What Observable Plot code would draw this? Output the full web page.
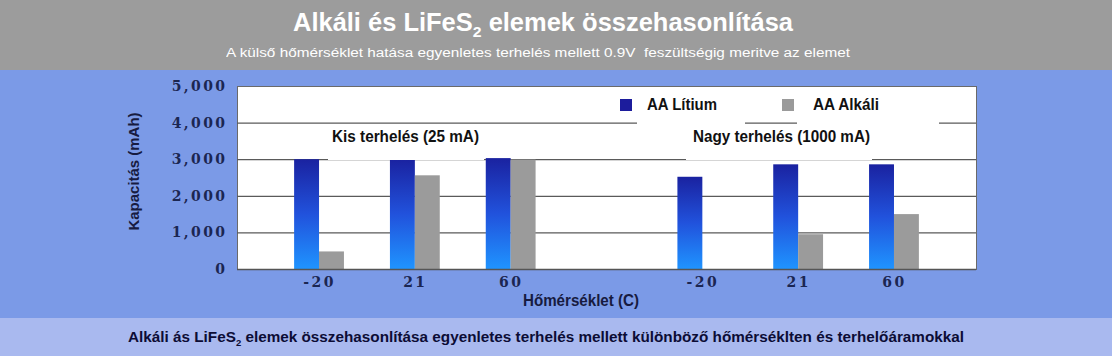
<!DOCTYPE html>
<html><head><meta charset="utf-8">
<script src="https://cdn.jsdelivr.net/npm/d3@7"></script>
<script src="https://cdn.jsdelivr.net/npm/@observablehq/plot@0.6"></script>
<style>
body{margin:0;width:1112px;height:356px;overflow:hidden;position:relative;font-family:"Liberation Sans",Arial,sans-serif;}
#top{position:absolute;left:0;top:0;width:1112px;height:70px;background:#9c9c9c;}
#mid{position:absolute;left:0;top:70px;width:1112px;height:248px;background:#7b9ae7;}
#bot{position:absolute;left:0;top:318px;width:1112px;height:38px;background:#a9b9ef;}
.t{position:absolute;white-space:nowrap;line-height:1;transform-origin:left top;}
.t sub{font-size:0.62em;vertical-align:-0.38em;line-height:0;}
.box{position:absolute;background:#fff;}
.sq{position:absolute;width:12px;height:12px;}
#mid svg g[aria-label="y-axis tick label"] text,
#mid svg g[aria-label="x-axis tick label"] text{font-family:"DejaVu Serif",serif;font-weight:bold;font-size:14px;letter-spacing:2.4px;fill:#1b2652;}
</style></head>
<body>
<div id="top"></div><div id="mid"></div><div id="bot"></div>
<script>
// ---- data ----
const groups = ["K-20","K21","K60","gap","N-20","N21","N60"];
const tickLabels = ["-20","21","60","","-20","21","60"];
const lithium = [3000, 3000, 3030, null, 2520, 2860, 2860];
const alkaline = [480, 2560, 2990, null, 0, 950, 1500];
const yTicks = [0, 1000, 2000, 3000, 4000, 5000];
const seriesNames = ["AA Lítium", "AA Alkáli"];
const loadLabels = ["Kis terhelés (25 mA)", "Nagy terhelés (1000 mA)"];

const rows = groups.map((g, i) => ({group: g, lit: lithium[i], alk: alkaline[i]})).filter(d => d.lit != null);
const labelOf = Object.fromEntries(groups.map((g, i) => [g, tickLabels[i]]));

const chart = Plot.plot({
  width: 1112, height: 248,
  marginLeft: 237, marginRight: 136, marginTop: 16, marginBottom: 49,
  style: {background: "transparent", overflow: "visible"},
  x: {type: "band", domain: groups, paddingInner: 0.48, paddingOuter: 0.596, round: false, axis: null},
  y: {domain: [0, 5000], axis: null},
  marks: [
    Plot.frame({fill: "white", stroke: "#6a6a6a"}),
    Plot.ruleY(yTicks.filter(d => d > 0 && d < 5000), {stroke: "#5a5a5a", strokeWidth: 1.3}),
    Plot.barY(rows, {x: "group", y: "lit", fill: "url(#litGrad)", insetRight: 24.9}),
    Plot.barY(rows, {x: "group", y: "alk", fill: "#9b9b9b", insetLeft: 24.9}),
    Plot.ruleY([0], {stroke: "#555", strokeWidth: 1.5}),
    Plot.axisY(yTicks, {tickSize: 0, tickPadding: 10, tickFormat: d3.format(","), label: null}),
    Plot.axisX({tickSize: 0, tickPadding: 8, tickFormat: d => labelOf[d], label: null})
  ]
});
const ns = "http://www.w3.org/2000/svg";
const defs = document.createElementNS(ns, "defs");
defs.innerHTML = '<linearGradient id="litGrad" x1="0" y1="0" x2="0" y2="1"><stop offset="0" stop-color="#1a22a0"/><stop offset="0.5" stop-color="#2152dc"/><stop offset="1" stop-color="#1f94ff"/></linearGradient>';
chart.prepend(defs);
document.getElementById("mid").appendChild(chart);

// ---- overlays (page coordinates) ----
function box(x, y, w, h) {
  const b = document.createElement("div"); b.className = "box";
  Object.assign(b.style, {left: x + "px", top: y + "px", width: w + "px", height: h + "px"});
  document.body.appendChild(b);
}
function sq(x, y, c) {
  const b = document.createElement("div"); b.className = "sq";
  Object.assign(b.style, {left: x + "px", top: y + "px", background: c});
  document.body.appendChild(b);
}
function txt(html, o) {
  const s = document.createElement("span"); s.className = "t"; s.innerHTML = html;
  Object.assign(s.style, {fontSize: o.size + "px", fontWeight: o.weight || "normal", color: o.color || "#000", fontFamily: o.family || "'Liberation Sans',Arial,sans-serif"});
  document.body.appendChild(s);
  const nw = s.getBoundingClientRect().width;
  const k = o.w / nw;
  if (o.rotate) {
    s.style.transformOrigin = "center center";
    s.style.left = (o.cx - nw / 2) + "px";
    s.style.top = (o.cy - o.size / 2) + "px";
    s.style.transform = `rotate(-90deg) scaleX(${k})`;
  } else {
    const left = o.anchor === "middle" ? o.x - o.w / 2 : o.x;
    s.style.left = left + "px";
    s.style.top = (o.base - 0.85 * o.size) + "px";
    s.style.transform = `scaleX(${k})`;
  }
}

// title / subtitle
txt("Alkáli és LiFeS<sub>2</sub> elemek összehasonlítása", {x: 543, w: 500, anchor: "middle", base: 31, size: 25, weight: "bold", color: "#fff"});
txt("A külső hőmérséklet hatása egyenletes terhelés mellett 0.9V&nbsp; feszültségig meritve az elemet", {x: 226, w: 624, base: 57, size: 12, color: "#fff"});

// annotation boxes hiding grid lines
box(328, 124, 156, 35.5);
box(686, 124, 186, 36);
box(637, 92, 108, 32);
box(797, 92, 142, 32);

// legend
sq(620, 99, "#1c1c9c");
sq(782, 99, "#9a9a9a");
txt(seriesNames[0], {x: 647, w: 70, base: 111, size: 16, weight: "bold", color: "#111"});
txt(seriesNames[1], {x: 813, w: 66, base: 111, size: 16, weight: "bold", color: "#111"});

// load labels
txt(loadLabels[0], {x: 332, w: 147, base: 143, size: 16, weight: "bold", color: "#111"});
txt(loadLabels[1], {x: 693, w: 177, base: 143, size: 16, weight: "bold", color: "#111"});

// axis titles
txt("Kapacitás (mAh)", {rotate: true, cx: 133, cy: 171, w: 118, size: 15, weight: "bold", color: "#171b40"});
txt("Hőmérséklet (C)", {x: 523, w: 116, base: 307, size: 16, weight: "bold", color: "#171b40"});

// caption
txt("Alkáli ás LiFeS<sub>2</sub> elemek összehasonlítása egyenletes terhelés mellett különböző hőmérséklten és terhelőáramokkal", {x: 128, w: 836, base: 342, size: 15, weight: "bold", color: "#0c0c35"});
</script>
</body></html>
